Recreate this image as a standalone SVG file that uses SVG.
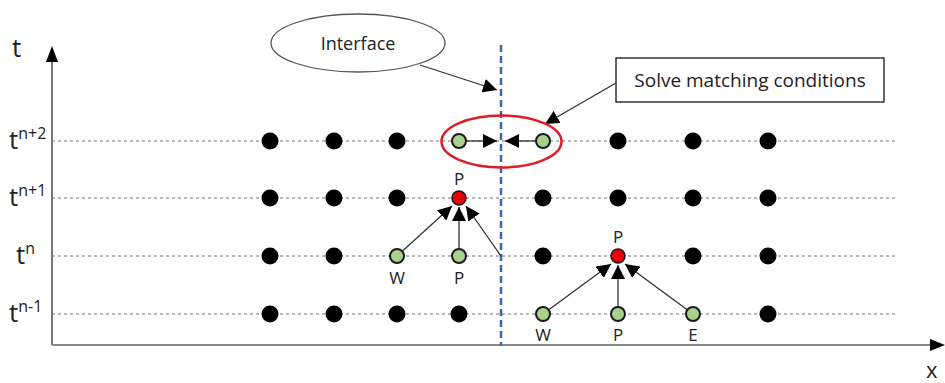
<svg xmlns="http://www.w3.org/2000/svg" width="945" height="383" viewBox="0 0 945 383">
<style>
text{font-family:"Open Sans","Liberation Sans",sans-serif;fill:#222}
.grid{stroke:#777;stroke-width:1;stroke-dasharray:3,3}
.blk{fill:#000}
.grn{fill:#a9d18e;stroke:#1a1a1a;stroke-width:2}
.red{fill:#e8000b;stroke:#1a1a1a;stroke-width:1.5}
.lbl{font-size:17px;text-anchor:middle}
.tl{font-size:26px}
.sup{font-size:16px}
.con{stroke:#333;stroke-width:1.3;fill:none}
</style>
<defs>
<marker id="ahb" viewBox="0 0 10 10" refX="10" refY="5" markerWidth="14" markerHeight="14" markerUnits="userSpaceOnUse" orient="auto">
<path d="M0,0 L10,5 L0,10 z" fill="#000"/>
</marker>
</defs>
<rect width="945" height="383" fill="#fff"/>
<g id="axes">
<line x1="52" y1="345" x2="52" y2="60" stroke="#777" stroke-width="2"/>
<path d="M46,62 L52,46 L58,62 z" fill="#000"/>
<line x1="52" y1="345" x2="932" y2="345" stroke="#888" stroke-width="2"/>
<path d="M930,339 L945,345 L930,351 z" fill="#000"/>
<text x="12" y="57" class="tl">t</text>
<text x="926" y="378" class="tl" style="font-size:22px">x</text>
</g>
<g id="grid">
<line x1="52" y1="141" x2="895" y2="141" class="grid"/>
<line x1="52" y1="198" x2="895" y2="198" class="grid"/>
<line x1="52" y1="256" x2="895" y2="256" class="grid"/>
<line x1="52" y1="314" x2="895" y2="314" class="grid"/>
<text x="9" y="149" class="tl">t<tspan class="sup" dy="-10">n+2</tspan></text>
<text x="9" y="206" class="tl">t<tspan class="sup" dy="-10">n+1</tspan></text>
<text x="16" y="264" class="tl">t<tspan class="sup" dy="-10">n</tspan></text>
<text x="9" y="322" class="tl">t<tspan class="sup" dy="-10">n-1</tspan></text>
</g>
<g id="interface-line">
<line x1="501" y1="45" x2="501" y2="346" stroke="#3a66b0" stroke-width="2.5" stroke-dasharray="7,4"/>
</g>
<g id="connectors">
<line x1="420" y1="65" x2="497" y2="90" class="con" marker-end="url(#ahb)"/>
<line x1="616" y1="83" x2="545" y2="124" class="con" marker-end="url(#ahb)"/>
<line x1="466" y1="141" x2="497" y2="141" class="con" marker-end="url(#ahb)"/>
<line x1="536" y1="141" x2="505" y2="141" class="con" marker-end="url(#ahb)"/>
<line x1="397" y1="256" x2="452" y2="206" class="con" marker-end="url(#ahb)"/>
<line x1="459" y1="256" x2="459" y2="207" class="con" marker-end="url(#ahb)"/>
<line x1="501" y1="256" x2="466" y2="206" class="con" marker-end="url(#ahb)"/>
<line x1="543" y1="314" x2="611" y2="264" class="con" marker-end="url(#ahb)"/>
<line x1="618" y1="314" x2="618" y2="265" class="con" marker-end="url(#ahb)"/>
<line x1="693" y1="314" x2="625" y2="264" class="con" marker-end="url(#ahb)"/>
</g>
<g id="interface-label">
<ellipse cx="358" cy="43" rx="87" ry="29" fill="#fff" stroke="#555" stroke-width="1.3"/>
<text x="358" y="50" class="lbl" style="font-size:18px">Interface</text>
</g>
<g id="solve-box">
<rect x="616" y="58" width="268" height="44" fill="#fff" stroke="#333" stroke-width="1.5"/>
<text x="750" y="87" class="lbl" style="font-size:19px">Solve matching conditions</text>
</g>
<g id="matching-ellipse">
<ellipse cx="501.5" cy="141.5" rx="60" ry="26" fill="none" stroke="#d9202a" stroke-width="2.5"/>
</g>
<g id="row-n2">
<circle cx="270" cy="141" r="8.5" class="blk"/><circle cx="334" cy="141" r="8.5" class="blk"/><circle cx="397" cy="141" r="8.5" class="blk"/>
<circle cx="459" cy="141" r="7" class="grn"/><circle cx="543" cy="141" r="7" class="grn"/>
<circle cx="618" cy="141" r="8.5" class="blk"/><circle cx="693" cy="141" r="8.5" class="blk"/><circle cx="768" cy="141" r="8.5" class="blk"/>
</g>
<g id="row-n1">
<circle cx="270" cy="198" r="8.5" class="blk"/><circle cx="334" cy="198" r="8.5" class="blk"/><circle cx="397" cy="198" r="8.5" class="blk"/>
<circle cx="459" cy="198" r="7" class="red"/>
<circle cx="543" cy="198" r="8.5" class="blk"/><circle cx="618" cy="198" r="8.5" class="blk"/><circle cx="693" cy="198" r="8.5" class="blk"/><circle cx="768" cy="198" r="8.5" class="blk"/>
<text x="459" y="185" class="lbl">P</text>
</g>
<g id="row-n">
<circle cx="270" cy="256" r="8.5" class="blk"/><circle cx="334" cy="256" r="8.5" class="blk"/>
<circle cx="397" cy="256" r="7" class="grn"/><circle cx="459" cy="256" r="7" class="grn"/>
<circle cx="543" cy="256" r="8.5" class="blk"/>
<circle cx="618" cy="256" r="7" class="red"/>
<circle cx="693" cy="256" r="8.5" class="blk"/><circle cx="768" cy="256" r="8.5" class="blk"/>
<text x="397" y="284" class="lbl">W</text><text x="459" y="284" class="lbl">P</text>
<text x="618" y="243" class="lbl">P</text>
</g>
<g id="row-n-1">
<circle cx="270" cy="314" r="8.5" class="blk"/><circle cx="334" cy="314" r="8.5" class="blk"/><circle cx="397" cy="314" r="8.5" class="blk"/><circle cx="459" cy="314" r="8.5" class="blk"/>
<circle cx="543" cy="314" r="7" class="grn"/><circle cx="618" cy="314" r="7" class="grn"/><circle cx="693" cy="314" r="7" class="grn"/>
<circle cx="768" cy="314" r="8.5" class="blk"/>
<text x="543" y="341" class="lbl">W</text><text x="618" y="341" class="lbl">P</text><text x="693" y="341" class="lbl">E</text>
</g>
</svg>
